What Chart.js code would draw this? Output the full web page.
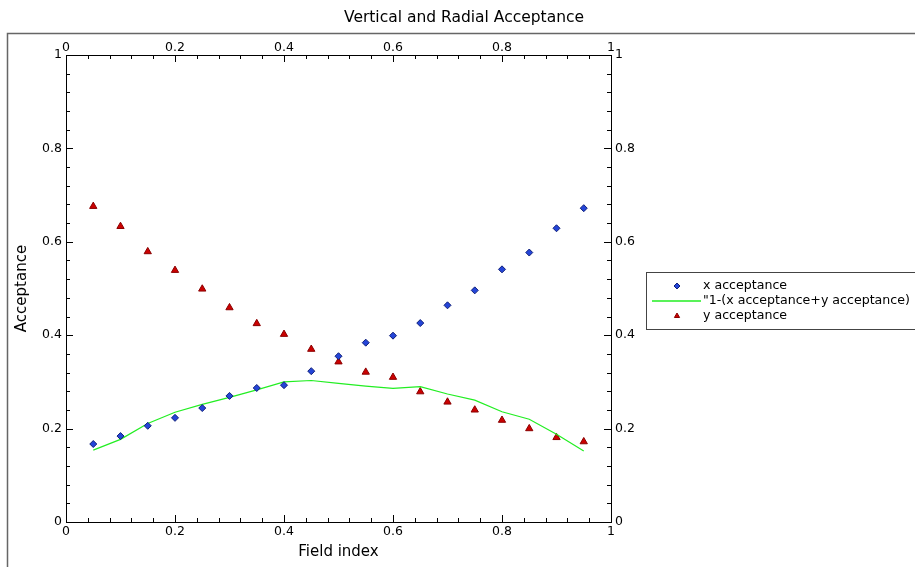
<!DOCTYPE html>
<html>
<head>
<meta charset="utf-8">
<title>Vertical and Radial Acceptance</title>
<script src="https://cdn.jsdelivr.net/npm/chart.js@4/dist/chart.umd.min.js"></script>
<style>
  html, body { margin: 0; padding: 0; background: #fff; }
  #wrap { width: 915px; height: 567px; }
</style>
</head>
<body>
<div id="wrap"><canvas id="accChart" width="915" height="567"></canvas></div>
<script>
// field index (x positions)
const fieldIndex = [0.05, 0.1, 0.15, 0.2, 0.25, 0.3, 0.35, 0.4, 0.45, 0.5,
                    0.55, 0.6, 0.65, 0.7, 0.75, 0.8, 0.85, 0.9, 0.95];
const xAcceptance = [0.167, 0.184, 0.206, 0.223, 0.244, 0.270, 0.287, 0.293, 0.323, 0.355,
                     0.384, 0.399, 0.426, 0.464, 0.496, 0.541, 0.577, 0.629, 0.672];
const remainder = [0.154, 0.177, 0.211, 0.235, 0.252, 0.267, 0.283, 0.300, 0.303, 0.297,
                   0.291, 0.286, 0.290, 0.274, 0.261, 0.236, 0.220, 0.188, 0.152];
const yAcceptance = [0.676, 0.633, 0.579, 0.539, 0.499, 0.459, 0.425, 0.402, 0.370, 0.343,
                     0.321, 0.310, 0.279, 0.257, 0.240, 0.218, 0.200, 0.181, 0.172];
const tickValues = [0, 0.2, 0.4, 0.6, 0.8, 1];

const chartTitle = "Vertical and Radial Acceptance";

Chart.defaults.font.family = "'DejaVu Sans', sans-serif";
Chart.defaults.color = "#000";

const toPoints = (ys) => fieldIndex.map((x, i) => ({ x: x, y: ys[i] }));

// inward tick marks, outer frame, title and the boxed legend
const decorPlugin = {
  id: "decor",
  beforeDraw(chart) {
    const ctx = chart.ctx;
    ctx.save();
    ctx.fillStyle = "#fff";
    ctx.fillRect(0, 0, chart.width, chart.height);
    ctx.strokeStyle = "#666";
    ctx.lineWidth = 1.5;
    ctx.strokeRect(7.5, 33.5, chart.width + 20, chart.height + 20);
    ctx.fillStyle = "#000";
    ctx.font = "15.5px 'DejaVu Sans', sans-serif";
    ctx.textAlign = "center";
    ctx.textBaseline = "middle";
    ctx.fillText(chartTitle, 464, 18);
    ctx.restore();
  },
  afterDraw(chart) {
    const ctx = chart.ctx;
    const area = chart.chartArea;
    ctx.save();
    ctx.strokeStyle = "#000";
    ctx.lineWidth = 1;
    ["x", "x2", "y", "y2"].forEach((id) => {
      const s = chart.scales[id];
      for (let i = 0; i <= 25; i++) {
        const len = i % 5 === 0 ? 7 : 4;
        const p = Math.round(s.getPixelForValue(i * 0.04)) + 0.5;
        ctx.beginPath();
        if (id === "x") { ctx.moveTo(p, area.bottom); ctx.lineTo(p, area.bottom - len); }
        if (id === "x2") { ctx.moveTo(p, area.top); ctx.lineTo(p, area.top + len); }
        if (id === "y") { ctx.moveTo(area.left, p); ctx.lineTo(area.left + len, p); }
        if (id === "y2") { ctx.moveTo(area.right, p); ctx.lineTo(area.right - len, p); }
        ctx.stroke();
      }
    });

    // legend
    ctx.strokeStyle = "#444";
    ctx.strokeRect(646.5, 272.5, 320, 57);
    ctx.font = "12.6px 'DejaVu Sans', sans-serif";
    ctx.textAlign = "left";
    ctx.textBaseline = "middle";
    chart.data.datasets.forEach((ds, i) => {
      const y = 286 + i * 15;
      if (ds.showLine) {
        ctx.strokeStyle = ds.borderColor;
        ctx.lineWidth = 1.3;
        ctx.beginPath();
        ctx.moveTo(652, y);
        ctx.lineTo(701, y);
        ctx.stroke();
      } else {
        ctx.fillStyle = ds.backgroundColor;
        ctx.strokeStyle = ds.borderColor;
        ctx.lineWidth = 1;
        Chart.helpers.drawPoint(ctx, {
          pointStyle: ds.pointStyle, radius: 3, rotation: 0, borderWidth: 1
        }, 677, y);
      }
      ctx.fillStyle = "#000";
      ctx.fillText(ds.label, 703, y);
    });
    ctx.restore();
  }
};

function linearAxis(position, extra) {
  return Object.assign({
    type: "linear",
    position: position,
    min: 0,
    max: 1,
    afterBuildTicks: (s) => { s.ticks = tickValues.map((v) => ({ value: v })); },
    ticks: {
      autoSkip: false,
      maxRotation: 0,
      font: { size: 12.5 },
      color: "#000",
      callback: (v) => String(v)
    },
    grid: { drawOnChartArea: false, drawTicks: false },
    border: { color: "#000", width: 1 }
  }, extra);
}

const xAxis = linearAxis("bottom", {
  title: { display: true, text: "Field index", font: { size: 15 }, padding: { top: 0, bottom: 6 } },
  afterFit: (s) => { s.height = 45; }
});
xAxis.ticks.padding = 2;

const x2Axis = linearAxis("top", { axis: "x", afterFit: (s) => { s.height = 55; } });
x2Axis.ticks.padding = 0;

const yAxis = linearAxis("left", {
  title: { display: true, text: "Acceptance", font: { size: 15 }, padding: { top: 13, bottom: 0 } },
  afterFit: (s) => { s.width = 66; }
});
yAxis.ticks.padding = 4;

const y2Axis = linearAxis("right", { axis: "y", afterFit: (s) => { s.width = 304; } });
y2Axis.ticks.padding = 4;

new Chart(document.getElementById("accChart").getContext("2d"), {
  type: "scatter",
  data: {
    datasets: [
      {
        label: "x acceptance",
        data: toPoints(xAcceptance),
        showLine: false,
        pointStyle: "rectRot",
        pointRadius: 3.5,
        backgroundColor: "#2445d8",
        borderColor: "#10207a",
        borderWidth: 1
      },
      {
        label: "\"1-(x acceptance+y acceptance)",
        data: toPoints(remainder),
        showLine: true,
        pointRadius: 0,
        borderColor: "#22ee22",
        backgroundColor: "#22ee22",
        borderWidth: 1.2,
        tension: 0
      },
      {
        label: "y acceptance",
        data: toPoints(yAcceptance),
        showLine: false,
        pointStyle: "triangle",
        pointRadius: 4.2,
        backgroundColor: "#cc0000",
        borderColor: "#8a0000",
        borderWidth: 1
      }
    ]
  },
  options: {
    responsive: false,
    animation: false,
    layout: { padding: 0 },
    plugins: {
      legend: { display: false },
      title: { display: false },
      tooltip: { enabled: false }
    },
    scales: { x: xAxis, x2: x2Axis, y: yAxis, y2: y2Axis }
  },
  plugins: [decorPlugin]
});
</script>
</body>
</html>
